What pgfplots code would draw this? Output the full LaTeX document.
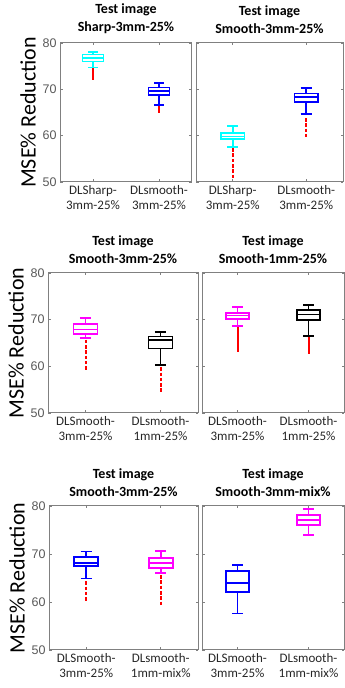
\documentclass[border=0pt]{standalone}
\usepackage{pgfplots}
\pgfplotsset{compat=1.18}
\usepackage{fontspec}
\setmainfont{Carlito}
\newfontfamily\tickfont{Liberation Sans}
\definecolor{tickgray}{gray}{0.35}
\definecolor{framegray}{gray}{0.5}
\definecolor{mcyan}{rgb}{0,1,1}
\definecolor{mblue}{rgb}{0,0,1}
\definecolor{mmag}{rgb}{1,0,1}
\definecolor{mblack}{rgb}{0,0,0}
\definecolor{mred}{rgb}{1,0,0}
\pgfplotsset{
 panel/.style={
  scale only axis, anchor=south west,
  xmin=0.5,xmax=2.5,ymin=50,ymax=80,
  xtick={1,2}, ytick={50,60,70,80},
  tick align=inside, xtick pos=both, ytick pos=both,
  major tick length=2.5pt,
  unbounded coords=jump,
  axis line style={framegray, line width=1pt},
  tick style={framegray, line width=0.6pt},
  /pgf/number format/assume math mode=true,
  yticklabel style={font=\tickfont\fontsize{12.5}{14}\selectfont, text=tickgray},
  xticklabel style={align=center, font=\fontsize{13}{15}\selectfont, text=black!85},
  title style={font=\bfseries\fontsize{14}{17.5}\selectfont, align=center},
  ylabel style={font=\fontsize{22}{24}\selectfont},
 },
 bx/.style={draw=#1, color=#1, solid, line width=1.8pt, mark=none, line join=miter},
 outsolid/.style={draw=mred, color=mred, mark=none, line width=2pt, solid},
 outdash/.style={draw=mred, color=mred, mark=none, line width=2pt, dash pattern=on 3.5pt off 1.8pt},
}
\begin{document}
\begin{tikzpicture}
\useasboundingbox (0,0) rectangle (345pt,688pt);
% ---------- Row 1 left
\begin{axis}[panel, at={(60pt,506pt)}, width=132pt, height=139pt,
  title={Test image\\Sharp-3mm-25\%}, ylabel={MSE\% Reduction},
  xticklabels={{DLSharp-\\3mm-25\%},{DLsmooth-\\3mm-25\%}}]
\addplot[outsolid] coordinates {(1,74.5)(1,72.1)};
\addplot[outsolid] coordinates {(2,66.4)(2,64.8)};
% cyan: lw 74.7 q1 76.0 med 76.8 q3 77.5 uw 78.0
\addplot[bx=mcyan] coordinates {(0.84,76.0)(1.16,76.0)(1.16,77.5)(0.84,77.5)(0.84,76.0)(1.16,76.0)(1,nan)(0.84,76.8)(1.16,76.8)(1,nan)(1,77.5)(1,78.0)(1,nan)(0.925,78.0)(1.075,78.0)(1,nan)(1,76.0)(1,74.7)(1,nan)(0.925,74.7)(1.075,74.7)};
% blue: 66.6 68.8 69.7 70.4 71.3
\addplot[bx=mblue] coordinates {(1.84,68.8)(2.16,68.8)(2.16,70.4)(1.84,70.4)(1.84,68.8)(2.16,68.8)(2,nan)(1.84,69.7)(2.16,69.7)(2,nan)(2,70.4)(2,71.3)(2,nan)(1.925,71.3)(2.075,71.3)(2,nan)(2,68.8)(2,66.6)(2,nan)(1.925,66.6)(2.075,66.6)};
\end{axis}
% ---------- Row 1 right
\begin{axis}[panel, at={(196pt,506pt)}, width=147pt, height=139pt,
  title={Test image\\Smooth-3mm-25\%}, yticklabels={},
  xticklabels={{DLSharp-\\3mm-25\%},{DLsmooth-\\3mm-25\%}}]
\addplot[outdash] coordinates {(1,57.3)(1,50.8)};
\addplot[outdash] coordinates {(2,63.8)(2,59.8)};
% cyan: 57.6 59.2 59.8 60.5 62.1
\addplot[bx=mcyan] coordinates {(0.84,59.2)(1.16,59.2)(1.16,60.5)(0.84,60.5)(0.84,59.2)(1.16,59.2)(1,nan)(0.84,59.8)(1.16,59.8)(1,nan)(1,60.5)(1,62.1)(1,nan)(0.925,62.1)(1.075,62.1)(1,nan)(1,59.2)(1,57.6)(1,nan)(0.925,57.6)(1.075,57.6)};
% blue: 64.7 67.3 68.3 69.1 70.2
\addplot[bx=mblue] coordinates {(1.84,67.3)(2.16,67.3)(2.16,69.1)(1.84,69.1)(1.84,67.3)(2.16,67.3)(2,nan)(1.84,68.3)(2.16,68.3)(2,nan)(2,69.1)(2,70.2)(2,nan)(1.925,70.2)(2.075,70.2)(2,nan)(2,67.3)(2,64.7)(2,nan)(1.925,64.7)(2.075,64.7)};
\end{axis}
% ---------- Row 2 left
\begin{axis}[panel, at={(48pt,275pt)}, width=150pt, height=140pt,
  title={Test image\\Smooth-3mm-25\%}, ylabel={MSE\% Reduction},
  xticklabels={{DLSmooth-\\3mm-25\%},{DLsmooth-\\1mm-25\%}}]
\addplot[outdash] coordinates {(1.004,65.7)(1.004,59.1)};
\addplot[outdash] coordinates {(2,59.8)(2,54.5)};
% magenta: 66.1 66.9 67.9 69.0 70.4
\addplot[bx=mmag] coordinates {(0.84,66.9)(1.16,66.9)(1.16,69.0)(0.84,69.0)(0.84,66.9)(1.16,66.9)(1,nan)(0.84,67.9)(1.16,67.9)(1,nan)(1,69.0)(1,70.4)(1,nan)(0.925,70.4)(1.075,70.4)(1,nan)(1,66.9)(1,66.1)(1,nan)(0.925,66.1)(1.075,66.1)};
% black: 60.2 63.8 65.6 66.4 67.4
\addplot[bx=mblack] coordinates {(1.84,63.8)(2.16,63.8)(2.16,66.4)(1.84,66.4)(1.84,63.8)(2.16,63.8)(2,nan)(1.84,65.6)(2.16,65.6)(2,nan)(2,66.4)(2,67.4)(2,nan)(1.925,67.4)(2.075,67.4)(2,nan)(2,63.8)(2,60.2)(2,nan)(1.925,60.2)(2.075,60.2)};
\end{axis}
% ---------- Row 2 right
\begin{axis}[panel, at={(202pt,275pt)}, width=142pt, height=140pt,
  title={Test image\\Smooth-1mm-25\%}, yticklabels={},
  xticklabels={{DLSmooth-\\3mm-25\%},{DLsmooth-\\1mm-25\%}}]
\addplot[outsolid] coordinates {(1.004,68.4)(1.004,63.1)};
\addplot[outsolid] coordinates {(2,66.3)(2,62.7)};
% magenta: 68.6 70.1 70.9 71.5 72.7
\addplot[bx=mmag] coordinates {(0.84,70.1)(1.16,70.1)(1.16,71.5)(0.84,71.5)(0.84,70.1)(1.16,70.1)(1,nan)(0.84,70.9)(1.16,70.9)(1,nan)(1,71.5)(1,72.7)(1,nan)(0.925,72.7)(1.075,72.7)(1,nan)(1,70.1)(1,68.6)(1,nan)(0.925,68.6)(1.075,68.6)};
% black: 66.5 69.9 71.1 72.1 73.2
\addplot[bx=mblack] coordinates {(1.84,69.9)(2.16,69.9)(2.16,72.1)(1.84,72.1)(1.84,69.9)(2.16,69.9)(2,nan)(1.84,71.1)(2.16,71.1)(2,nan)(2,72.1)(2,73.2)(2,nan)(1.925,73.2)(2.075,73.2)(2,nan)(2,69.9)(2,66.5)(2,nan)(1.925,66.5)(2.075,66.5)};
\end{axis}
% ---------- Row 3 left
\begin{axis}[panel, at={(49pt,38pt)}, width=149pt, height=144pt,
  title={Test image\\Smooth-3mm-25\%}, ylabel={MSE\% Reduction},
  xticklabels={{DLSmooth-\\3mm-25\%},{DLsmooth-\\1mm-mix\%}}]
\addplot[outdash] coordinates {(1,64.3)(1,60.1)};
\addplot[outdash] coordinates {(2,65.6)(2,59.4)};
% blue: 64.9 67.5 68.1 69.3 70.5
\addplot[bx=mblue] coordinates {(0.84,67.5)(1.16,67.5)(1.16,69.3)(0.84,69.3)(0.84,67.5)(1.16,67.5)(1,nan)(0.84,68.1)(1.16,68.1)(1,nan)(1,69.3)(1,70.5)(1,nan)(0.925,70.5)(1.075,70.5)(1,nan)(1,67.5)(1,64.9)(1,nan)(0.925,64.9)(1.075,64.9)};
% magenta: 66.1 67.0 68.1 69.1 70.6
\addplot[bx=mmag] coordinates {(1.84,67.0)(2.16,67.0)(2.16,69.1)(1.84,69.1)(1.84,67.0)(2.16,67.0)(2,nan)(1.84,68.1)(2.16,68.1)(2,nan)(2,69.1)(2,70.6)(2,nan)(1.925,70.6)(2.075,70.6)(2,nan)(2,67.0)(2,66.1)(2,nan)(1.925,66.1)(2.075,66.1)};
\end{axis}
% ---------- Row 3 right
\begin{axis}[panel, at={(202pt,38pt)}, width=142pt, height=144pt,
  title={Test image\\Smooth-3mm-mix\%}, yticklabels={},
  xticklabels={{DLSmooth-\\3mm-25\%},{DLsmooth-\\1mm-mix\%}}]
% blue: 57.6 62.0 64.0 66.5 67.7
\addplot[bx=mblue] coordinates {(0.84,62.0)(1.16,62.0)(1.16,66.5)(0.84,66.5)(0.84,62.0)(1.16,62.0)(1,nan)(0.84,64.0)(1.16,64.0)(1,nan)(1,66.5)(1,67.7)(1,nan)(0.925,67.7)(1.075,67.7)(1,nan)(1,62.0)(1,57.6)(1,nan)(0.925,57.6)(1.075,57.6)};
% magenta: 74.0 76.0 77.1 78.1 79.3
\addplot[bx=mmag] coordinates {(1.84,76.0)(2.16,76.0)(2.16,78.1)(1.84,78.1)(1.84,76.0)(2.16,76.0)(2,nan)(1.84,77.1)(2.16,77.1)(2,nan)(2,78.1)(2,79.3)(2,nan)(1.925,79.3)(2.075,79.3)(2,nan)(2,76.0)(2,74.0)(2,nan)(1.925,74.0)(2.075,74.0)};
\end{axis}
\end{tikzpicture}
\end{document}
